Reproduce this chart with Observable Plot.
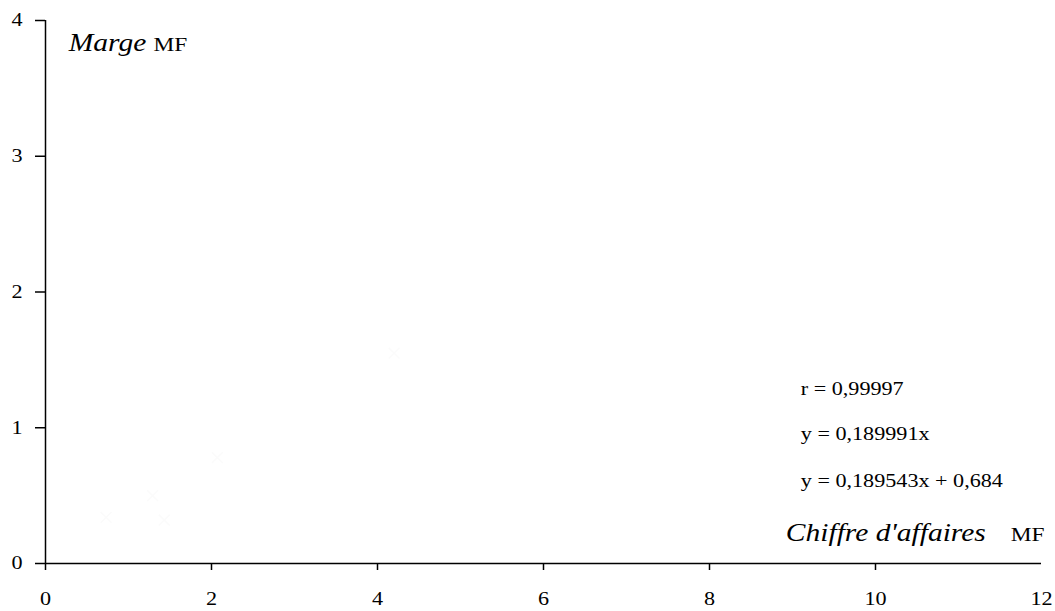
<!DOCTYPE html>
<html>
<head>
<meta charset="utf-8">
<script src="https://cdn.jsdelivr.net/npm/d3@7"></script>
<script src="https://cdn.jsdelivr.net/npm/@observablehq/plot@0.6"></script>
<style>
  html, body { margin: 0; padding: 0; background: #fff; }
  svg, svg text { font-family: "Liberation Serif", "Times New Roman", serif !important; }
</style>
</head>
<body>
<div id="chart"></div>
<script>
// Axis tick values
const xTickLabels = [0, 2, 4, 6, 8, 10, 12];
const xTickMarks = [0, 2, 4, 6, 8, 10];
const yTickLabels = [0, 1, 2, 3, 4];

// Ghost data points (barely visible in the reference)
const pointX = [0.73, 1.29, 1.43, 2.07, 4.2];
const pointY = [0.34, 0.50, 0.32, 0.78, 1.55];
const points = pointX.map((x, i) => ({x, y: pointY[i]}));

// Annotation texts
const statTexts = ["r = 0,99997", "y = 0,189991x", "y = 0,189543x + 0,684"];
const statY = [1.2376, 0.9061, 0.5599];
const stats = statTexts.map((t, i) => ({t, x: 9.1, y: statY[i]}));

const axisLabels = [
  {t: "Marge", x: 0.28, y: 3.775, italic: true},
  {t: "MF", x: 1.3, y: 3.775, italic: false},
  {t: "Chiffre d'affaires", x: 8.92, y: 0.165, italic: true},
  {t: "MF", x: 11.63, y: 0.165, italic: false}
];

const serif = "Liberation Serif";

const chart = Plot.plot({
  width: 1055,
  height: 611,
  marginLeft: 45,
  marginRight: 14,
  marginTop: 20,
  marginBottom: 48,
  style: {fontFamily: serif, background: "#fff", color: "#000"},
  x: {domain: [0, 12]},
  y: {domain: [0, 4]},
  marks: [
    Plot.dot(points, {x: "x", y: "y", symbol: "times", r: 5, stroke: "#fbfbfb"}),
    Plot.axisX({ticks: xTickLabels, tickSize: 0, tickPadding: 29, fontSize: 18, fontFamily: serif, label: null, tickFormat: d => String(d)}),
    Plot.axisX({ticks: xTickMarks, tickSize: 7, text: null, label: null, strokeWidth: 1.5}),
    Plot.axisY({ticks: yTickLabels, tickSize: 10, tickPadding: 13, fontSize: 18, fontFamily: serif, label: null, strokeWidth: 1.5, tickFormat: d => String(d)}),
    Plot.ruleY([0], {stroke: "#000", strokeWidth: 1.5}),
    Plot.ruleX([0], {stroke: "#000", strokeWidth: 1.5}),
    Plot.text(stats, {x: "x", y: "y", text: "t", textAnchor: "start", lineAnchor: "bottom", fontSize: 18, fontFamily: serif, fill: "#000"}),
    Plot.text(axisLabels.filter(d => d.italic), {x: "x", y: "y", text: "t", textAnchor: "start", lineAnchor: "bottom", fontSize: 25, fontFamily: serif, fontStyle: "italic", fill: "#000"}),
    Plot.text(axisLabels.filter(d => !d.italic), {x: "x", y: "y", text: "t", textAnchor: "start", lineAnchor: "bottom", fontSize: 19, fontFamily: serif, fill: "#000"})
  ]
});
document.getElementById("chart").appendChild(chart);

// The reference's serif type is drawn slightly wide: stretch each text horizontally.
chart.querySelectorAll("text").forEach(t => {
  const italic = getComputedStyle(t).fontStyle === "italic";
  const k = italic ? 1.18 : 1.23;
  const len = t.getComputedTextLength();
  if (len > 0) {
    t.setAttribute("textLength", (len * k).toFixed(2));
    t.setAttribute("lengthAdjust", "spacingAndGlyphs");
  }
});
</script>
</body>
</html>
